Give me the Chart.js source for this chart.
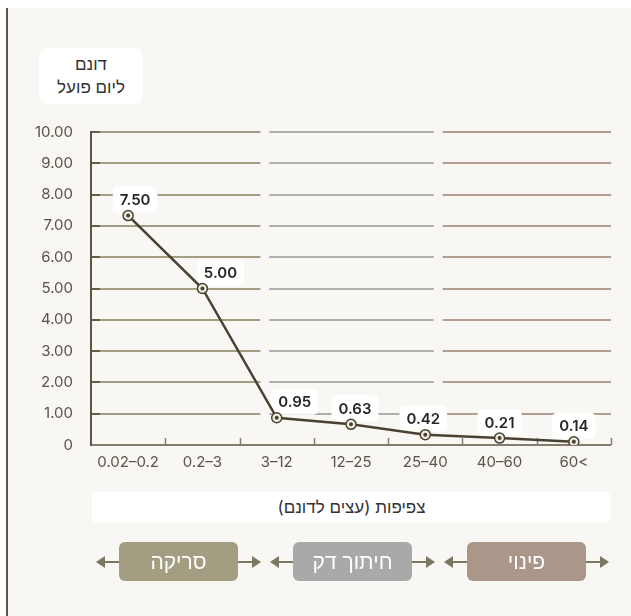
<!DOCTYPE html>
<html lang="he">
<head>
<meta charset="utf-8">
<script src="https://cdn.jsdelivr.net/npm/chart.js@4"></script>
<style>
  html, body { margin: 0; padding: 0; background: #fff; }
  body { width: 631px; height: 616px; position: relative; overflow: hidden;
         font-family: Inter, "Liberation Sans", "DejaVu Sans", sans-serif; }
  .panel { position: absolute; left: 6px; top: 8px; right: 0; bottom: 0;
           background: #f8f7f3; border-left: 2px solid #5e5446; }
  canvas { position: absolute; left: 0; top: 0; }
  .ytitle { position: absolute; left: 39px; top: 48px; width: 104px; height: 56px;
            background: #fff; border-radius: 8px; text-align: center; direction: rtl;
            color: #333; font-size: 17px; line-height: 23px; padding-top: 5px; box-sizing: border-box; }
  .xtitle { position: absolute; left: 92px; top: 492px; width: 519px; height: 31px;
            background: #fff; border-radius: 6px; text-align: center; direction: rtl;
            color: #333; font-size: 17px; line-height: 31px; }
  .flow { position: absolute; left: 96px; top: 542px; display: flex; direction: ltr; }
  .grp { display: flex; align-items: center; width: 165px; margin-right: 9px; }
  .tri-l { width: 0; height: 0; border-top: 6px solid transparent; border-bottom: 6px solid transparent;
           border-right: 9px solid #7d7660; }
  .tri-r { width: 0; height: 0; border-top: 6px solid transparent; border-bottom: 6px solid transparent;
           border-left: 9px solid #7d7660; }
  .ln { width: 14px; height: 2px; background: #7d7660; }
  .box { width: 119px; height: 39px; border-radius: 6px; color: #fff; font-size: 21px;
         line-height: 39px; text-align: center; direction: rtl; }
</style>
</head>
<body>
<div class="panel"></div>
<canvas id="grafico" width="631" height="616"></canvas>
<div class="ytitle">דונם<br>ליום פועל</div>
<div class="xtitle">צפיפות (עצים לדונם)</div>
<div class="flow">
  <div class="grp"><div class="tri-l"></div><div class="ln"></div><div class="box" style="background:#a39e82">סריקה</div><div class="ln"></div><div class="tri-r"></div></div>
  <div class="grp"><div class="tri-l"></div><div class="ln"></div><div class="box" style="background:#a9a9a9">חיתוך דק</div><div class="ln"></div><div class="tri-r"></div></div>
  <div class="grp"><div class="tri-l"></div><div class="ln"></div><div class="box" style="background:#ab978a">פינוי</div><div class="ln"></div><div class="tri-r"></div></div>
</div>
<script>
// צפיפות (עצים לדונם)
const categorias = ['0.02–0.2', '0.2–3', '3–12', '12–25', '25–40', '40–60', '60<'];
// position of each point as drawn in the picture
const valores = [7.33, 5.0, 0.87, 0.66, 0.33, 0.22, 0.1];
// the printed labels
const etiquetas = ['7.50', '5.00', '0.95', '0.63', '0.42', '0.21', '0.14'];
const ticksY = [0, 1, 2, 3, 4, 5, 6, 7, 8, 9, 10];

const colorLinea = '#4a4133';
const coloresGrupo = ['#a39e82', '#b0afad', '#b29f91'];
const labelShift = [7, 18, 18, 4, -2, 0, 0];

// gridlines in three groups + axes with inner ticks + label boxes
const fondoPlugin = {
    id: 'fondo',
    beforeDatasetsDraw(chart) {
        const ctx = chart.ctx;
        const a = chart.chartArea;
        const ys = chart.scales.y;
        const xs = chart.scales.x;
        const tercio = (a.right - a.left) / 3;
        ctx.save();
        ctx.lineWidth = 2;
        ticksY.forEach(v => {
            if (v === 0) return;
            const y = Math.round(ys.getPixelForValue(v));
            for (let g = 0; g < 3; g++) {
                const x0 = a.left + g * tercio + (g === 0 ? 9 : 5);
                const x1 = a.left + (g + 1) * tercio - (g === 2 ? 0 : 4);
                ctx.strokeStyle = coloresGrupo[g];
                ctx.beginPath(); ctx.moveTo(x0, y); ctx.lineTo(x1, y); ctx.stroke();
            }
            ctx.strokeStyle = '#645b4b';
            ctx.beginPath(); ctx.moveTo(a.left, y); ctx.lineTo(a.left + 9, y); ctx.stroke();
        });
        // x axis
        ctx.strokeStyle = '#857c6c';
        ctx.beginPath(); ctx.moveTo(a.left, a.bottom); ctx.lineTo(a.right, a.bottom); ctx.stroke();
        ctx.lineWidth = 1.5;
        for (let i = 1; i <= categorias.length; i++) {
            const x = Math.round(xs.getPixelForValue(i - 0.5)) + 0.5;
            ctx.beginPath(); ctx.moveTo(x, a.bottom); ctx.lineTo(x, a.bottom - 7); ctx.stroke();
        }
        // y axis
        ctx.lineWidth = 2;
        ctx.strokeStyle = '#5e5446';
        ctx.beginPath(); ctx.moveTo(a.left, a.top - 1); ctx.lineTo(a.left, a.bottom + 1); ctx.stroke();

        // label boxes
        ctx.font = '600 15px Inter, "Liberation Sans", sans-serif';
        ctx.textAlign = 'center';
        ctx.textBaseline = 'middle';
        const meta = chart.getDatasetMeta(1);
        meta.data.forEach((pt, i) => {
            const w = ctx.measureText(etiquetas[i]).width + 14;
            const h = 26;
            const cx = pt.x + labelShift[i];
            const bottom = pt.y - 3;
            ctx.fillStyle = '#ffffff';
            ctx.beginPath();
            ctx.roundRect(cx - w / 2, bottom - h, w, h, 5);
            ctx.fill();
            ctx.fillStyle = '#2a2722';
            ctx.fillText(etiquetas[i], cx, bottom - h / 2 + 1);
        });
        ctx.restore();
    }
};

const ctx = document.getElementById('grafico').getContext('2d');
new Chart(ctx, {
    type: 'line',
    data: {
        labels: categorias,
        datasets: [{
            label: 'centro',
            data: valores,
            showLine: false,
            pointRadius: 2,
            pointHoverRadius: 2,
            pointBackgroundColor: colorLinea,
            pointBorderWidth: 0,
            order: 0
        }, {
            label: 'דונם ליום פועל',
            data: valores,
            borderColor: colorLinea,
            borderWidth: 2.5,
            tension: 0,
            pointRadius: 5,
            pointHoverRadius: 5,
            pointBackgroundColor: '#eeebdf',
            pointBorderColor: colorLinea,
            pointBorderWidth: 1.5,
            order: 1
        }]
    },
    options: {
        responsive: false,
        animation: false,
        events: [],
        layout: { padding: { left: 0, top: 132, right: 20, bottom: 141 } },
        plugins: { legend: { display: false }, tooltip: { enabled: false } },
        scales: {
            x: {
                offset: true,
                grid: { display: false, drawTicks: false },
                border: { display: false },
                ticks: { color: '#5a5448', padding: 8, font: { size: 15, family: 'Inter, "Liberation Sans", sans-serif' }, maxRotation: 0, autoSkip: false },
                afterFit(scale) { scale.height = 30; }
            },
            y: {
                min: 0,
                max: 10,
                grid: { display: false, drawTicks: false },
                border: { display: false },
                ticks: {
                    stepSize: 1,
                    padding: 18,
                    color: '#5a5448',
                    font: { size: 15, family: 'Inter, "Liberation Sans", sans-serif' },
                    callback: v => v === 0 ? '0' : Number(v).toFixed(2)
                },
                afterFit(scale) { scale.width = 91; }
            }
        }
    },
    plugins: [fondoPlugin]
});
</script>
</body>
</html>
